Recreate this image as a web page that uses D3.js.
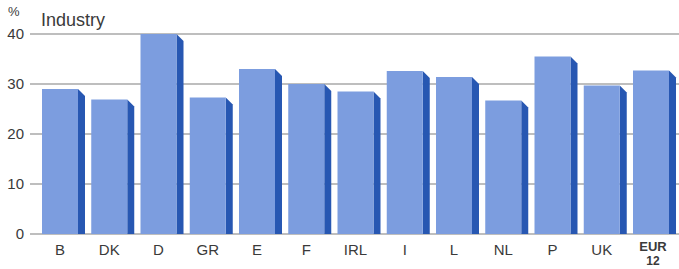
<!DOCTYPE html>
<html>
<head>
<meta charset="utf-8">
<script src="https://cdn.jsdelivr.net/npm/d3@7"></script>
<style>
  body { margin: 0; background: #fff; }
  svg { display: block; font-family: "Liberation Sans", Arial, sans-serif; }
</style>
</head>
<body>
<svg id="chart" width="679" height="269"></svg>
<script>
// Countries and their industry share (%).
var countries = ["B", "DK", "D", "GR", "E", "F", "IRL", "I", "L", "NL", "P", "UK", "EUR"];
var shares = [29.0, 26.9, 40.0, 27.3, 33.0, 30.0, 28.5, 32.6, 31.4, 26.7, 35.5, 29.7, 32.7];
var yTicks = [0, 10, 20, 30, 40];

var svg = d3.select('#chart');
var depth = 7;

var x = d3.scaleBand()
  .domain(countries)
  .range([42, 669])
  .paddingInner(0.269)
  .paddingOuter(0);

var y = d3.scaleLinear()
  .domain([0, 40])
  .range([234, 34]);

// Grid lines.
svg.selectAll('.grid')
  .data(yTicks)
  .enter().append('line')
  .attr('x1', 30).attr('x2', 679)
  .attr('y1', function(d) { return y(d); })
  .attr('y2', function(d) { return y(d); })
  .style('stroke', '#a8a8a8')
  .style('stroke-width', 1.3);

// Y tick labels.
svg.selectAll('.ylab')
  .data(yTicks)
  .enter().append('text')
  .attr('x', 24)
  .attr('y', function(d) { return y(d) + 5; })
  .attr('text-anchor', 'end')
  .style('font-size', '15px')
  .style('fill', '#3a3a3a')
  .text(function(d) { return d; });

// Bars: front face and shaded side.
var data = countries.map(function(c, i) { return {c: c, v: shares[i]}; });

var bars = svg.selectAll('.bar')
  .data(data)
  .enter().append('g');

bars.append('polygon')
  .attr('points', function(d) {
    var x1 = x(d.c) + x.bandwidth(), t = y(d.v), b = y(0);
    return [[x1, t], [x1 + depth, t + depth], [x1 + depth, b], [x1, b]].join(' ');
  })
  .style('fill', '#2757b2');

bars.append('rect')
  .attr('x', function(d) { return x(d.c); })
  .attr('y', function(d) { return y(d.v); })
  .attr('width', x.bandwidth())
  .attr('height', function(d) { return y(0) - y(d.v); })
  .style('fill', '#7c9ddf');

// X labels.
svg.selectAll('.xlab')
  .data(countries)
  .enter().append('text')
  .attr('x', function(d) { return x(d) + x.bandwidth() / 2 + (d == 'EUR' ? 2 : 0); })
  .attr('y', function(d) { return d == 'EUR' ? 251 : 255; })
  .attr('text-anchor', 'middle')
  .style('font-size', function(d) { return d == 'EUR' ? '13px' : '15px'; })
  .style('font-weight', function(d) { return d == 'EUR' ? 'bold' : 'normal'; })
  .style('fill', '#3a3a3a')
  .text(function(d) { return d; });

svg.append('text')
  .attr('x', x('EUR') + x.bandwidth() / 2 + 2)
  .attr('y', 265)
  .attr('text-anchor', 'middle')
  .style('font-size', '12px')
  .style('font-weight', 'bold')
  .style('fill', '#3a3a3a')
  .text('12');

// Titles.
svg.append('text')
  .attr('x', 8).attr('y', 16)
  .style('font-size', '13px')
  .style('fill', '#3a3a3a')
  .text('%');

svg.append('text')
  .attr('x', 41).attr('y', 26)
  .style('font-size', '18px')
  .style('fill', '#3a3a3a')
  .text('Industry');
</script>
</body>
</html>
